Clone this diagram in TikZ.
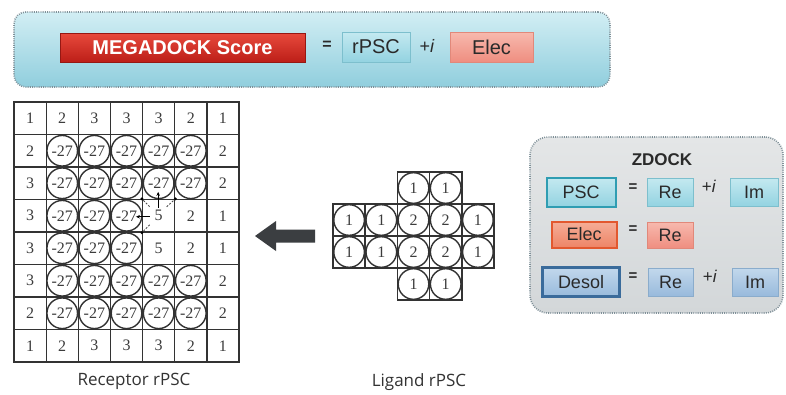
\documentclass[tikz,border=0pt]{standalone}
\usepackage{fontspec}
\setmainfont{Liberation Sans}
\newfontfamily\serifnum{Liberation Serif}
\newfontfamily\labelfont{Open Sans}
\usetikzlibrary{arrows.meta,calc}
\definecolor{topA}{HTML}{D2EEF4}
\definecolor{topB}{HTML}{90CEDD}
\definecolor{panelborder}{HTML}{7F9098}
\definecolor{zdA}{HTML}{E4E6E7}
\definecolor{zdB}{HTML}{D3D7D9}
\definecolor{redA}{HTML}{E84A3C}
\definecolor{redB}{HTML}{BC1E18}
\definecolor{cyA}{HTML}{C4E9F0}
\definecolor{cyB}{HTML}{93D3E1}
\definecolor{cyD}{HTML}{7DBFCD}
\definecolor{teal}{HTML}{2F9DB2}
\definecolor{pkA}{HTML}{F7B9AE}
\definecolor{pkB}{HTML}{EF8E80}
\definecolor{pkD}{HTML}{E1887A}
\definecolor{orA}{HTML}{F5AE98}
\definecolor{orB}{HTML}{EE8466}
\definecolor{orD}{HTML}{E2582F}
\definecolor{blA}{HTML}{C2D8EC}
\definecolor{blB}{HTML}{98BADC}
\definecolor{blD}{HTML}{3A6B9B}
\definecolor{blT}{HTML}{8AACCC}
\definecolor{gridc}{HTML}{333333}
\definecolor{numc}{HTML}{3C3C3C}
\definecolor{arrowc}{HTML}{3B3E41}
\definecolor{txt}{HTML}{2A2A2A}
\begin{document}
\begin{tikzpicture}[x=1pt,y=-1pt,
  panel/.style={draw=panelborder,line width=1.6pt,dash pattern=on 0.9pt off 1.3pt,inner sep=0pt},
  bigbox/.style={inner sep=0pt,font=\fontsize{20}{20}\selectfont,text=txt},
  smallbox/.style={inner sep=0pt,font=\fontsize{18}{18}\selectfont,text=txt},
  optext/.style={inner sep=0pt,text=txt},
  rcell/.style={draw=gridc,line width=1.3pt,minimum width=32.15pt,minimum height=32.5pt,inner sep=0pt,
    font=\serifnum\fontsize{16}{16}\selectfont,text=numc},
  lcell/.style={draw=gridc,line width=1.6pt,minimum width=32.2pt,minimum height=32pt,inner sep=0pt,
    font=\serifnum\fontsize{16}{16}\selectfont,text=numc},
  ring/.style={draw=gridc,line width=1.4pt},
  tinyarrow/.style={draw=black,line width=1pt,-{Stealth[length=4pt,width=3.5pt]}},
  tinydash/.style={draw=black!70,line width=0.8pt,dash pattern=on 2pt off 1.5pt},
  caption/.style={inner sep=0pt,font=\labelfont\fontsize{17}{17}\selectfont,text=black!80}
]
\useasboundingbox (0,0) rectangle (786,394);
\fill[white] (0,0) rectangle (786,394);

% ---------- top panel ----------
\node[panel,top color=topA,bottom color=topB,rounded corners=12pt,minimum width=596pt,minimum height=75pt] (toppanel) at (312,49.5) {};
\node[bigbox,top color=redA,bottom color=redB,draw=redB!80!black,line width=0.6pt,minimum width=245pt,minimum height=29pt,
  text=white,font=\bfseries\fontsize{20}{20}\selectfont] (mega) at (182.5,47.5) {MEGADOCK Score};
\node[optext,font=\bfseries\fontsize{16}{16}\selectfont] (eqtop) at (327,45) {=};
\node[bigbox,top color=cyA,bottom color=cyB,draw=cyD,line width=0.8pt,minimum width=68pt,minimum height=30pt] (rpsc) at (376,47) {rPSC};
\node[optext,font=\fontsize{18}{18}\selectfont] (itop) at (427,46) {+\textit{i}};
\node[bigbox,top color=pkA,bottom color=pkB,draw=pkD,line width=0.8pt,minimum width=83pt,minimum height=30pt] (electop) at (491.5,47) {Elec};

% ---------- receptor grid ----------
\foreach \rowvals [count=\r] in {{1,2,3,3,3,2,1},{2,-27,-27,-27,-27,-27,2},{3,-27,-27,-27,-27,-27,2},{3,-27,-27,-27,5,2,1},{3,-27,-27,-27,5,2,1},{3,-27,-27,-27,-27,-27,2},{2,-27,-27,-27,-27,-27,2},{1,2,3,3,3,2,1}}{
  \foreach \v [count=\c] in \rowvals {
    \node[rcell] (R-\r-\c) at ({14+32.15*(\c-0.5)},{102+32.5*(\r-0.5)}) {\v};
    \ifnum\v<0 \draw[ring] (R-\r-\c.center) circle[radius=15.3pt]; \fi
  }
}
% small arrows in the "5" cell
\coordinate (upfrom) at ($(R-4-5.center)+(-0.5,-8)$);
\coordinate (upto) at ($(R-4-5.north)+(-0.5,-7)$);
\coordinate (lfrom) at ($(R-4-5.center)+(-9,1)$);
\coordinate (lto) at ($(R-4-5.west)+(-6,1)$);
\draw[tinyarrow] (upfrom) -- (upto);
\draw[tinyarrow] (lfrom) -- (lto);
\coordinate (d1) at ($(R-4-5.center)+(-9,-9)$);
\coordinate (d2) at ($(R-4-5.center)+(8,-9)$);
\coordinate (d3) at ($(R-4-5.center)+(-9,9)$);
\draw[tinydash] (d1) -- (R-4-5.north west);
\draw[tinydash] (d2) -- (R-4-5.north east);
\draw[tinydash] (d3) -- (R-4-5.south west);
\fill[black] (R-4-5.north west) circle[radius=1.6pt];
\fill[black] (R-4-5.north east) circle[radius=1.6pt];
\fill[black] (R-4-5.south west) circle[radius=1.6pt];

% ---------- big arrow ----------
\fill[arrowc] (255,236) -- (276,221) -- (276,229.5) -- (315,229.5) -- (315,242.5) -- (276,242.5) -- (276,251) -- cycle;

% ---------- ligand grid ----------
\foreach \c/\r/\v in {3/1/1,4/1/1,1/2/1,2/2/1,3/2/2,4/2/2,5/2/1,1/3/1,2/3/1,3/3/2,4/3/2,5/3/1,3/4/1,4/4/1}{
  \node[lcell] (L-\r-\c) at ({333+32.2*(\c-0.5)},{172+32*(\r-0.5)}) {\v};
  \draw[ring] (L-\r-\c.center) circle[radius=15.3pt];
}

% ---------- ZDOCK panel ----------
\node[panel,top color=zdA,bottom color=zdB,rounded corners=18pt,minimum width=253pt,minimum height=176pt] (zpanel) at (656.5,225) {};
\node[optext,font=\bfseries\fontsize{17}{17}\selectfont] (ztitle) at (662,160) {ZDOCK};
\node[smallbox,top color=cyA,bottom color=cyB,draw=teal,line width=2pt,minimum width=69pt,minimum height=29pt] (psc) at (581,192) {PSC};
\node[optext,font=\bfseries\fontsize{15}{15}\selectfont] (eq1) at (633,188) {=};
\node[smallbox,top color=cyA,bottom color=cyB,draw=cyD,line width=0.7pt,minimum width=46pt,minimum height=28pt] (re1) at (670,192) {Re};
\node[optext,font=\fontsize{17}{17}\selectfont] (i1) at (709,186) {+\textit{i}};
\node[smallbox,top color=cyA,bottom color=cyB,draw=cyD,line width=0.7pt,minimum width=48pt,minimum height=28pt] (im1) at (754,192) {Im};

\node[smallbox,top color=orA,bottom color=orB,draw=orD,line width=2pt,minimum width=65pt,minimum height=26pt] (elecz) at (584,234.5) {Elec};
\node[optext,font=\bfseries\fontsize{15}{15}\selectfont] (eq2) at (633,230) {=};
\node[smallbox,top color=pkA,bottom color=pkB,draw=pkD,line width=0.7pt,minimum width=46pt,minimum height=26pt] (re2) at (670,235) {Re};

\node[smallbox,top color=blA,bottom color=blB,draw=blD,line width=2.2pt,minimum width=77pt,minimum height=29pt] (desol) at (581,282) {Desol};
\node[optext,font=\bfseries\fontsize{15}{15}\selectfont] (eq3) at (633,277) {=};
\node[smallbox,top color=blA,bottom color=blB,draw=blT,line width=0.7pt,minimum width=45pt,minimum height=28pt] (re3) at (670.5,282) {Re};
\node[optext,font=\fontsize{17}{17}\selectfont] (i3) at (710,276) {+\textit{i}};
\node[smallbox,top color=blA,bottom color=blB,draw=blT,line width=0.7pt,minimum width=46pt,minimum height=28pt] (im3) at (755,282) {Im};

% ---------- captions ----------
\node[caption] (reccap) at (134,381) {Receptor rPSC};
\node[caption] (ligcap) at (419,382) {Ligand rPSC};
\end{tikzpicture}
\end{document}
